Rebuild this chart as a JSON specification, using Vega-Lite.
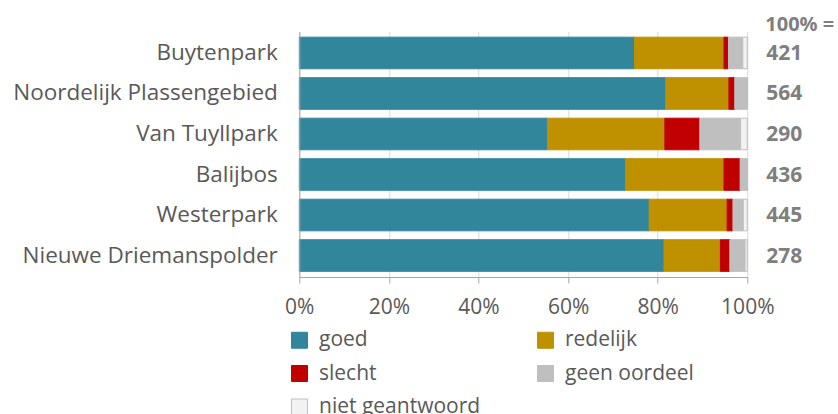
{
  "$schema": "https://vega.github.io/schema/vega-lite/v6.json",
  "width": 448,
  "height": 245.5,
  "autosize": {"type": "none"},
  "padding": {"left": 299.3, "top": 31.5, "right": 90.7, "bottom": 137},
  "config": {
    "view": {"stroke": null},
    "font": "Open Sans",
    "text": {"font": "Open Sans"}
  },
  "datasets": {
    "bars": [
      {"park": "Buytenpark", "cat": "goed", "o": 1, "v": 74.8},
      {"park": "Buytenpark", "cat": "redelijk", "o": 2, "v": 20.0},
      {"park": "Buytenpark", "cat": "slecht", "o": 3, "v": 1.0},
      {"park": "Buytenpark", "cat": "geen oordeel", "o": 4, "v": 3.2},
      {"park": "Buytenpark", "cat": "niet geantwoord", "o": 5, "v": 1.0},
      {"park": "Noordelijk Plassengebied", "cat": "goed", "o": 1, "v": 81.8},
      {"park": "Noordelijk Plassengebied", "cat": "redelijk", "o": 2, "v": 14.1},
      {"park": "Noordelijk Plassengebied", "cat": "slecht", "o": 3, "v": 1.3},
      {"park": "Noordelijk Plassengebied", "cat": "geen oordeel", "o": 4, "v": 2.8},
      {"park": "Noordelijk Plassengebied", "cat": "niet geantwoord", "o": 5, "v": 0},
      {"park": "Van Tuyllpark", "cat": "goed", "o": 1, "v": 55.4},
      {"park": "Van Tuyllpark", "cat": "redelijk", "o": 2, "v": 26.2},
      {"park": "Van Tuyllpark", "cat": "slecht", "o": 3, "v": 7.8},
      {"park": "Van Tuyllpark", "cat": "geen oordeel", "o": 4, "v": 9.1},
      {"park": "Van Tuyllpark", "cat": "niet geantwoord", "o": 5, "v": 1.5},
      {"park": "Balijbos", "cat": "goed", "o": 1, "v": 72.8},
      {"park": "Balijbos", "cat": "redelijk", "o": 2, "v": 22.0},
      {"park": "Balijbos", "cat": "slecht", "o": 3, "v": 3.6},
      {"park": "Balijbos", "cat": "geen oordeel", "o": 4, "v": 1.6},
      {"park": "Balijbos", "cat": "niet geantwoord", "o": 5, "v": 0},
      {"park": "Westerpark", "cat": "goed", "o": 1, "v": 78.1},
      {"park": "Westerpark", "cat": "redelijk", "o": 2, "v": 17.4},
      {"park": "Westerpark", "cat": "slecht", "o": 3, "v": 1.3},
      {"park": "Westerpark", "cat": "geen oordeel", "o": 4, "v": 2.3},
      {"park": "Westerpark", "cat": "niet geantwoord", "o": 5, "v": 0.9},
      {"park": "Nieuwe Driemanspolder", "cat": "goed", "o": 1, "v": 81.4},
      {"park": "Nieuwe Driemanspolder", "cat": "redelijk", "o": 2, "v": 12.6},
      {"park": "Nieuwe Driemanspolder", "cat": "slecht", "o": 3, "v": 2.1},
      {"park": "Nieuwe Driemanspolder", "cat": "geen oordeel", "o": 4, "v": 3.4},
      {"park": "Nieuwe Driemanspolder", "cat": "niet geantwoord", "o": 5, "v": 0.5}
    ],
    "totals": [
      {"park": "Buytenpark", "n": 421},
      {"park": "Noordelijk Plassengebied", "n": 564},
      {"park": "Van Tuyllpark", "n": 290},
      {"park": "Balijbos", "n": 436},
      {"park": "Westerpark", "n": 445},
      {"park": "Nieuwe Driemanspolder", "n": 278}
    ],
    "header": [
      {"park": "Buytenpark", "label": "100% ="}
    ]
  },
  "encoding": {
    "y": {
      "field": "park",
      "type": "nominal",
      "sort": ["Buytenpark", "Noordelijk Plassengebied", "Van Tuyllpark", "Balijbos", "Westerpark", "Nieuwe Driemanspolder"],
      "scale": {"paddingInner": 0.22, "paddingOuter": 0.14},
      "axis": {
        "title": null,
        "ticks": false,
        "domainColor": "#a6a6a6",
        "domainWidth": 1,
        "labelFont": "Open Sans",
        "labelFontSize": 22.5,
        "labelColor": "#595959",
        "labelPadding": 22,
        "labelLimit": 400,
        "zindex": 1
      }
    }
  },
  "layer": [
    {
      "data": {"name": "bars"},
      "mark": {"type": "bar", "strokeWidth": 1},
      "encoding": {
        "x": {
          "field": "v",
          "type": "quantitative",
          "stack": "zero",
          "scale": {"domain": [0, 100], "nice": false},
          "axis": {
            "title": null,
            "values": [0, 20, 40, 60, 80, 100],
            "labelExpr": "datum.value + '%'",
            "grid": true,
            "gridColor": "#d9d9d9",
            "gridWidth": 1,
            "domainColor": "#a6a6a6",
            "tickColor": "#a6a6a6",
            "tickSize": 6,
            "labelFont": "Open Sans",
            "labelFontSize": 21,
            "labelColor": "#595959",
            "labelPadding": 13,
            "labelFlush": false
          }
        },
        "color": {
          "field": "cat",
          "type": "nominal",
          "scale": {
            "domain": ["goed", "redelijk", "slecht", "geen oordeel", "niet geantwoord"],
            "range": ["#31869b", "#bf9000", "#c00000", "#bfbfbf", "#f2f2f2"]
          },
          "legend": {
            "title": null,
            "orient": "none",
            "legendX": -10.3,
            "legendY": 298,
            "direction": "horizontal",
            "columns": 2,
            "columnPadding": 54,
            "rowPadding": 11.5,
            "symbolType": "square",
            "symbolSize": 256,
            "symbolStrokeWidth": 1,
            "labelFont": "Open Sans",
            "labelFontSize": 21,
            "labelColor": "#595959",
            "labelOffset": 9,
            "labelLimit": 400
          }
        },
        "stroke": {
          "field": "cat",
          "type": "nominal",
          "scale": {
            "domain": ["goed", "redelijk", "slecht", "geen oordeel", "niet geantwoord"],
            "range": ["#31869b", "#bf9000", "#c00000", "#bfbfbf", "#bfbfbf"]
          },
          "legend": {
            "title": null,
            "orient": "none",
            "legendX": -10.3,
            "legendY": 298,
            "direction": "horizontal",
            "columns": 2,
            "columnPadding": 54,
            "rowPadding": 11.5,
            "symbolType": "square",
            "symbolSize": 256,
            "labelFont": "Open Sans",
            "labelFontSize": 21,
            "labelColor": "#595959",
            "labelOffset": 9,
            "labelLimit": 400
          }
        },
        "order": {"field": "o", "type": "quantitative"}
      }
    },
    {
      "data": {"name": "totals"},
      "mark": {"type": "text", "align": "left", "baseline": "middle", "dx": 19, "dy": 1, "fontSize": 21, "fontWeight": "bold", "color": "#7f7f7f", "font": "Open Sans"},
      "encoding": {
        "x": {"datum": 100, "type": "quantitative"},
        "text": {"field": "n", "type": "nominal"}
      }
    },
    {
      "data": {"name": "header"},
      "mark": {"type": "text", "align": "left", "baseline": "middle", "dx": 18, "dy": -28, "fontSize": 20, "fontWeight": "bold", "color": "#7f7f7f", "font": "Open Sans"},
      "encoding": {
        "x": {"datum": 100, "type": "quantitative"},
        "text": {"field": "label", "type": "nominal"}
      }
    }
  ]
}
